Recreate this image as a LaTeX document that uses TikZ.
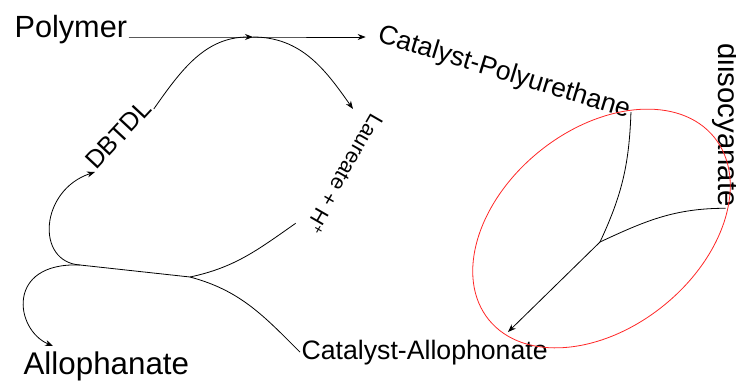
\documentclass[tikz,border=0pt]{standalone}
\usepackage{fontspec}
\setmainfont{Liberation Sans}
\usetikzlibrary{arrows.meta, calc}

\begin{document}
\begin{tikzpicture}[
    x=0.75pt, y=0.75pt,
    lbl/.style={inner sep=1pt, anchor=base west},
    link/.style={line width=0.6pt},
    arrow/.style={-{Stealth[length=6pt, width=4.5pt]}, line width=0.6pt},
    ring/.style={draw=red!85, line width=0.6pt}
]
\useasboundingbox (0,0) rectangle (736,380);
% labels
\node[lbl, font=\fontsize{23}{27}\selectfont] (poly) at (13,343) {Polymer};
\node[lbl, font=\fontsize{20}{24}\selectfont, rotate=-17] (catpu) at (375,339) {Catalyst-Polyurethane};
\node[lbl, font=\fontsize{22}{26}\selectfont, rotate=-90] (diiso) at (718,338) {diisocyanate};
\node[lbl, font=\fontsize{19}{23}\selectfont, rotate=47] (dbtdl) at (95,208) {DBTDL};
\node[lbl, font=\fontsize{16}{19}\selectfont, rotate=-120] (laur) at (372,269) {Laureate + H\textsuperscript{+}};
\node[lbl, font=\fontsize{23.5}{28}\selectfont] (allo) at (22,6) {Allophanate};
\node[lbl, font=\fontsize{20}{24}\selectfont] (catal) at (300,21) {Catalyst-Allophonate};
% junctions and free ends
\coordinate (J1) at (253,343);
\coordinate (J2) at (190,103);
\coordinate (J3) at (80,115);
\coordinate (J4) at (600,138);
\coordinate (allotip) at (53,34);
\coordinate (caltip) at (508,48);
\coordinate (ringc) at (601.5,151.5);
% upper path
\draw[arrow, shorten >=7pt] (poly.base east) -- (J1) -- (J1 -| catpu.base west);
\draw[arrow] (dbtdl.base east) to[out=55,in=180] (J1);
\draw[arrow] (J1) to[out=0,in=125] ($(laur.base west)+(-19,2)$);
% lower left
\draw[link] (J2) -- (J3);
\draw[arrow] (J3) .. controls (35,118) and (40,190) .. (dbtdl.base west);
\draw[arrow] (J3) .. controls (5,118) and (15,50) .. (allotip);
\draw[link] (J2) to[out=12,in=-145] ($(laur.base east)+(-8,6)$);
\draw[link] (J2) to[out=-15,in=135] (catal.west);
% ring
\draw[ring, rotate around={39:(ringc)}] (ringc) ellipse [x radius=145, y radius=99];
\draw[link] (catpu.east) to[out=-92,in=65] (J4);
\draw[link] (diiso.east) to[out=180,in=25] (J4);
\draw[arrow] (J4) -- (caltip);
\end{tikzpicture}
\end{document}
